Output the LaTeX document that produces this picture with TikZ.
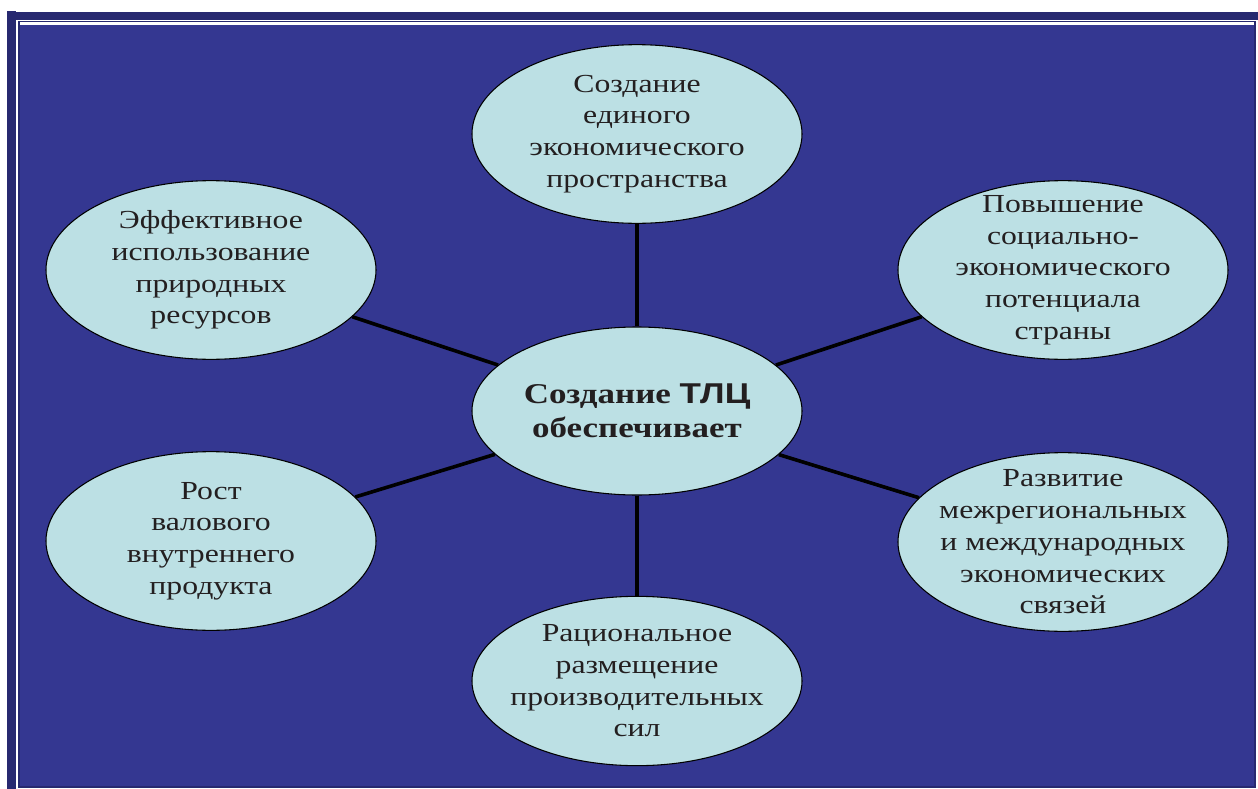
\documentclass[tikz,border=0pt]{standalone}
\usepackage{fontspec}
\setmainfont[FakeStretch=1.22]{Liberation Serif}
\newfontfamily\tlcfont[FakeStretch=1.22]{Liberation Sans}
\usetikzlibrary{shapes.geometric, positioning}
\definecolor{slideblue}{RGB}{52,55,145}
\definecolor{slidedark}{RGB}{39,41,112}
\definecolor{bubble}{RGB}{188,224,228}
\definecolor{ink}{RGB}{35,31,32}

\begin{document}
\begin{tikzpicture}[x=0.75pt, y=-0.75pt,
    goal/.style={ellipse, draw=black, line width=0.8pt, fill=bubble,
      minimum width=247.5pt, minimum height=134pt,
      inner xsep=-45pt, inner ysep=-20pt,
      align=center, text=ink, font=\fontsize{19.5}{23.8}\selectfont},
    link/.style={line width=2.7pt, black}]
  % frame of the slide
  \useasboundingbox (0,0) rectangle (1258,789);
  \fill[white] (0,0) rectangle (1258,789);
  \fill[slidedark] (7,11) rectangle (16,789);
  \fill[slidedark] (7,12) rectangle (1258,20);
  \draw[slidedark, fill=slideblue, line width=1.5pt] (19,21.5) rectangle (1255,787);
  \draw[white, line width=2.2pt] (20,23.7) -- (1254,23.7);

  % centre and the six goals
  \node[goal, minimum height=126pt, font=\fontsize{21.5}{25.5}\selectfont\bfseries] (main) at (637,411) {Создание {\tlcfont ТЛЦ}\\обеспечивает};
  \node[goal] (space) at (637,134) {Создание\\единого\\экономического\\пространства};
  \node[goal] (nature) at (211,270) {Эффективное\\использование\\природных\\ресурсов};
  \node[goal] (potential) at (1063,270) {Повышение\\социально-\\экономического\\потенциала\\страны};
  \node[goal] (gdp) at (211,541) {Рост\\валового\\внутреннего\\продукта};
  \node[goal] (links) at (1063,542) {Развитие\\межрегиональных\\и международных\\экономических\\связей};
  \node[goal, minimum height=127pt] (forces) at (637,681) {Рациональное\\размещение\\производительных\\сил};

  \draw[link] (main) -- (space);
  \draw[link] (main) -- (nature);
  \draw[link] (main) -- (potential);
  \draw[link] (main) -- (gdp);
  \draw[link] (main) -- (links);
  \draw[link] (main) -- (forces);
\end{tikzpicture}
\end{document}
